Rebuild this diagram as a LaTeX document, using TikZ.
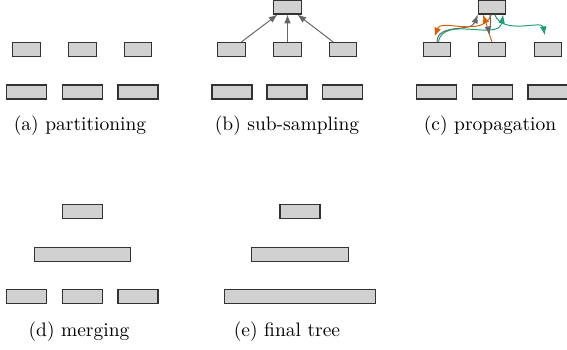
\documentclass[tikz,border=0pt]{standalone}
\usepackage{tikz}
\usetikzlibrary{arrows.meta}
\definecolor{box gray}{gray}{0.82}
\definecolor{edge gray}{HTML}{666666}
\definecolor{dark orange}{HTML}{D95F02}
\definecolor{dark teal}{HTML}{1B9E77}

\begin{document}
\begin{tikzpicture}[x=0.513pt, y=-0.513pt,
		blk/.style={draw=black!80, fill=box gray, line width=0.55pt, inner sep=0pt, minimum height=7.2pt},
		sblk/.style={blk, minimum width=14.1pt},
		bblk/.style={blk, minimum width=20.5pt},
		mblk/.style={blk, minimum width=49.3pt},
		wblk/.style={blk, minimum width=77.5pt},
		arr/.style={-{Latex[length=4.5pt,width=3.4pt]}, line width=0.5pt},
		subcap/.style={anchor=base}]
	\useasboundingbox (0,0) rectangle (567,349);
		% (a) partitioning
		\begin{scope}
			\node[sblk] (a1) at (26.5,49.5) {};
			\node[sblk] (a2) at (82.5,49.5) {};
			\node[sblk] (a3) at (138,49.5) {};
			\node[bblk] (al1) at (26.5,92) {};
			\node[bblk] (al2) at (82.5,92) {};
			\node[bblk] (al3) at (138,92) {};
			\node[subcap] (acap) at (80,130) {(a) partitioning};
		\end{scope}
		% (b) sub-sampling
		\begin{scope}
			\node[sblk] (b0) at (287.5,7) {};
			\node[sblk] (b1) at (231.5,49.5) {};
			\node[sblk] (b2) at (287.5,49.5) {};
			\node[sblk] (b3) at (343,49.5) {};
			\node[bblk] (bl1) at (232,92) {};
			\node[bblk] (bl2) at (287,92) {};
			\node[bblk] (bl3) at (342.5,92) {};
			\draw[arr, edge gray] (b1) -- (b0);
			\draw[arr, edge gray] (b2) -- (b0);
			\draw[arr, edge gray] (b3) -- (b0);
			\node[subcap] (bcap) at (287,130) {(b) sub-sampling};
		\end{scope}
		% (c) propagation
		\begin{scope}
			\node[sblk] (c0) at (492,7) {};
			\node[sblk] (c1) at (437,49.5) {};
			\node[sblk] (c2) at (492,49.5) {};
			\node[sblk] (c3) at (548,49.5) {};
			\node[bblk] (cl1) at (436.5,92) {};
			\node[bblk] (cl2) at (492.5,92) {};
			\node[bblk] (cl3) at (548,92) {};
			% upwards
			\draw[arr, edge gray] (c1.north) to[out=90, in=-110] (c0.south west);
			\draw[arr, dark teal] (c1.80) to[out=80, in=-100] (c0.326);
			\draw[arr, dark orange] (c2.north) to[out=110, in=-70] (c0.220);
			% downwards
			\draw[arr, dark orange, shorten >=3pt] (c0.265) to[out=-110, in=70] (c1.120);
			\draw[arr, edge gray, shorten >=3.5pt] (c0.255) to[out=-80, in=100] (c2.100);
			\draw[arr, dark teal, shorten >=3.5pt] (c0.290) to[out=-70, in=100] (c3.105);
			\node[subcap] (ccap) at (490,130) {(c) propagation};
		\end{scope}
		% (d) merging
		\begin{scope}
			\node[bblk] (d0) at (82.5,211.5) {};
			\node[mblk] (d1) at (82.5,254.5) {};
			\node[bblk] (dl1) at (26.5,296.5) {};
			\node[bblk] (dl2) at (82.5,296.5) {};
			\node[bblk] (dl3) at (138,296.5) {};
			\node[subcap] (dcap) at (79,336) {(d) merging};
		\end{scope}
		% (e) final tree
		\begin{scope}
			\node[bblk] (e0) at (300,211.5) {};
			\node[mblk] (e1) at (300,254.5) {};
			\node[wblk] (e2) at (300,296.5) {};
			\node[subcap] (ecap) at (287,336) {(e) final tree};
		\end{scope}
	\end{tikzpicture}
\end{document}
